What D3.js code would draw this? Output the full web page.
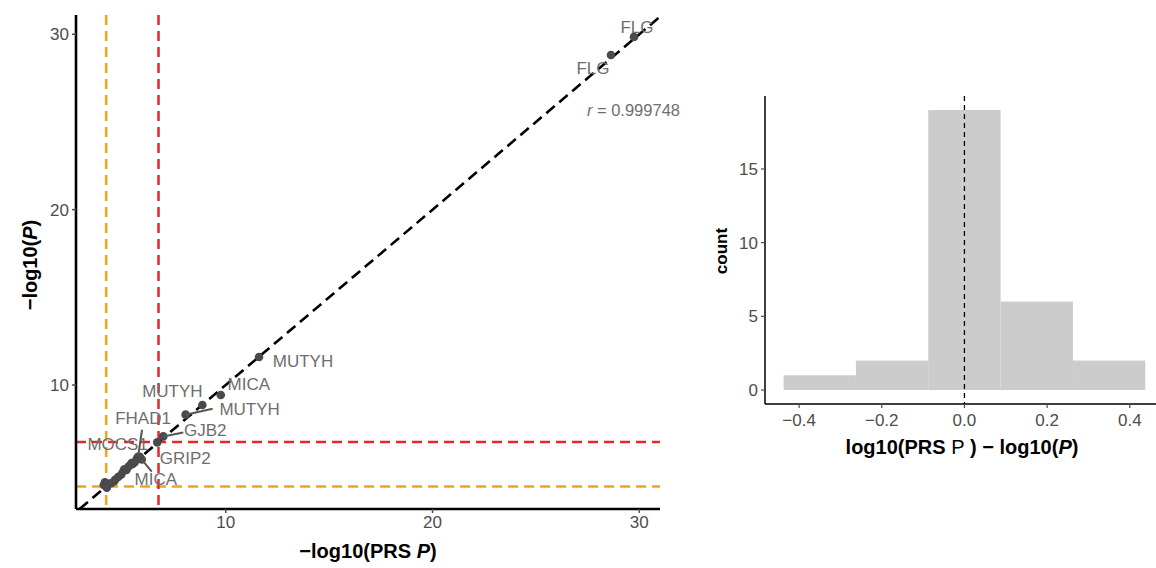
<!DOCTYPE html>
<html><head><meta charset="utf-8">
<script src="https://cdn.jsdelivr.net/npm/d3@7"></script>
<style>body{margin:0;background:#fff}svg{display:block;font-family:"Liberation Sans",Arial,sans-serif}</style>
</head><body><svg id="c" width="1156" height="568"></svg>
<script>
// ---- data ----
const prsLogP = [29.74,28.63,11.61,9.76,8.87,8.06,6.98,6.69,5.76,5.45,5.94,
  4.16,4.10,4.20,4.30,4.45,4.60,4.65,4.80,4.95,5.05,5.10,5.20,5.30,5.40,5.50,5.60,5.70,5.85,4.25];
const gwasLogP = [29.85,28.82,11.60,9.43,8.86,8.31,7.07,6.73,5.91,5.55,5.75,
  4.45,4.30,4.25,4.35,4.40,4.50,4.60,4.75,4.90,5.10,5.20,5.15,5.35,5.45,5.50,5.60,5.80,5.90,4.15];
const genes = ["FLG","FLG","MUTYH","MICA","MUTYH","MUTYH","GJB2","GRIP2","FHAD1","MOCS1","MICA"];
const thresholdRed = 6.75, thresholdOrange = 4.22;
const corrR = "0.999748";
const xTicks = [10,20,30], yTicks = [10,20,30];
const binEdges = [-0.4375,-0.2625,-0.0875,0.0875,0.2625,0.4375];
const binCounts = [1,2,19,6,2];
const hxTicks = [-0.4,-0.2,0.0,0.2,0.4], hyTicks = [0,5,10,15];

// ---- layout ----
const svg = d3.select("#c");
const tickCol = "#4d4d4d", txtCol = "#6e6e6e";
const x = d3.scaleLinear().domain([2.76,31.0]).range([76,660]);
const y = d3.scaleLinear().domain([2.93,31.1]).range([509,15]);
const g = svg.append("g");
g.append("defs").append("clipPath").attr("id","pc").append("rect")
  .attr("x",76).attr("y",15).attr("width",584).attr("height",494);
const pl = g.append("g").attr("clip-path","url(#pc)");
// threshold lines
[[thresholdOrange,"#f5a21f"],[thresholdRed,"#e5262a"]].forEach(([v,c])=>{
  pl.append("line").attr("x1",x(v)).attr("x2",x(v)).attr("y1",15).attr("y2",509)
    .attr("stroke",c).attr("stroke-width",2.5).attr("stroke-dasharray","10,6");
  pl.append("line").attr("x1",76).attr("x2",660).attr("y1",y(v)).attr("y2",y(v))
    .attr("stroke",c).attr("stroke-width",2.5).attr("stroke-dasharray","10,6");
});
// diagonal
pl.append("line").attr("x1",x(2.93)).attr("y1",y(2.93)).attr("x2",x(31.1)).attr("y2",y(31.1))
  .attr("stroke","#000").attr("stroke-width",2.6).attr("stroke-dasharray","11,6");
// points
pl.selectAll("circle").data(prsLogP).enter().append("circle")
  .attr("cx",d=>x(d)).attr("cy",(d,i)=>y(gwasLogP[i])).attr("r",4.3).attr("fill","#4a4a4a");
// labels (offsets in px) and segments
const off = [[3,-9],[-18,14],[44,5],[28,-11],[-30,-14],[64,-5],[42,-6],[28,16],[5,-38],[-14,-19],[14,20]];
const segEnd = {5:[27,-6],6:[20,-4],8:[4,-27],10:[10,12]};
Object.entries(segEnd).forEach(([i,e])=>{
  const px=x(prsLogP[i]), py=y(gwasLogP[i]);
  g.append("line").attr("x1",px).attr("y1",py).attr("x2",px+e[0]).attr("y2",py+e[1])
    .attr("stroke","#555").attr("stroke-width",2);
});
genes.forEach((s,i)=>{
  g.append("text").attr("x",x(prsLogP[i])+off[i][0]).attr("y",y(gwasLogP[i])+off[i][1])
    .attr("text-anchor","middle").attr("dominant-baseline","central")
    .attr("font-size",17).attr("fill",txtCol).text(s);
});
g.append("text").attr("x",680).attr("y",116).attr("text-anchor","end").attr("font-size",16.5)
  .attr("fill",txtCol).html('<tspan font-style="italic">r</tspan> = '+corrR);
// axes
g.append("line").attr("x1",76).attr("x2",660).attr("y1",509).attr("y2",509).attr("stroke","#000").attr("stroke-width",2.6);
g.append("line").attr("x1",76).attr("x2",76).attr("y1",15).attr("y2",509).attr("stroke","#000").attr("stroke-width",2.6);
xTicks.forEach(t=>{
  g.append("line").attr("x1",x(t)).attr("x2",x(t)).attr("y1",509).attr("y2",513).attr("stroke",tickCol).attr("stroke-width",1.5);
  g.append("text").attr("x",x(t)).attr("y",528).attr("text-anchor","middle").attr("font-size",17).attr("fill",tickCol).text(t);
});
yTicks.forEach(t=>{
  g.append("line").attr("x1",72).attr("x2",76).attr("y1",y(t)).attr("y2",y(t)).attr("stroke",tickCol).attr("stroke-width",1.5);
  g.append("text").attr("x",69).attr("y",y(t)+6).attr("text-anchor","end").attr("font-size",17).attr("fill",tickCol).text(t);
});
g.append("text").attr("x",368).attr("y",558).attr("text-anchor","middle").attr("font-size",20).attr("font-weight","bold")
  .html('\u2212log10(PRS <tspan font-style="italic">P</tspan>)');
g.append("text").attr("transform","translate(37,265) rotate(-90)").attr("text-anchor","middle").attr("font-size",20).attr("font-weight","bold")
  .html('\u2212log10(<tspan font-style="italic">P</tspan>)');

// ---- histogram ----
const hx = d3.scaleLinear().domain([-0.4825,0.4828]).range([765,1164]);
const hy = d3.scaleLinear().domain([-0.95,19.95]).range([404,96]);
const h = svg.append("g");
h.selectAll("rect").data(binCounts).enter().append("rect")
  .attr("x",(d,i)=>hx(binEdges[i])).attr("width",(d,i)=>hx(binEdges[i+1])-hx(binEdges[i]))
  .attr("y",d=>hy(d)).attr("height",d=>hy(0)-hy(d)).attr("fill","#cccccc");
h.append("line").attr("x1",hx(0)).attr("x2",hx(0)).attr("y1",96).attr("y2",404)
  .attr("stroke","#000").attr("stroke-width",1.3).attr("stroke-dasharray","5,4");
h.append("line").attr("x1",765).attr("x2",1164).attr("y1",404).attr("y2",404).attr("stroke","#000").attr("stroke-width",1.5);
h.append("line").attr("x1",765).attr("x2",765).attr("y1",96).attr("y2",404).attr("stroke","#000").attr("stroke-width",1.5);
hxTicks.forEach(t=>{
  h.append("line").attr("x1",hx(t)).attr("x2",hx(t)).attr("y1",404).attr("y2",408).attr("stroke",tickCol).attr("stroke-width",1.2);
  h.append("text").attr("x",hx(t)).attr("y",426).attr("text-anchor","middle").attr("font-size",17).attr("fill",tickCol)
    .text(t.toFixed(1).replace("-","\u2212"));
});
hyTicks.forEach(t=>{
  h.append("line").attr("x1",761).attr("x2",765).attr("y1",hy(t)).attr("y2",hy(t)).attr("stroke",tickCol).attr("stroke-width",1.2);
  h.append("text").attr("x",758).attr("y",hy(t)+6).attr("text-anchor","end").attr("font-size",17).attr("fill",tickCol).text(t);
});
h.append("text").attr("x",962).attr("y",454).attr("text-anchor","middle").attr("font-size",20).attr("font-weight","bold")
  .html('log10(PRS <tspan font-weight="normal">P</tspan> ) \u2212 log10(<tspan font-style="italic">P</tspan>)');
h.append("text").attr("transform","translate(727,251) rotate(-90)").attr("text-anchor","middle").attr("font-size",17).attr("font-weight","bold").text("count");
</script></body></html>
